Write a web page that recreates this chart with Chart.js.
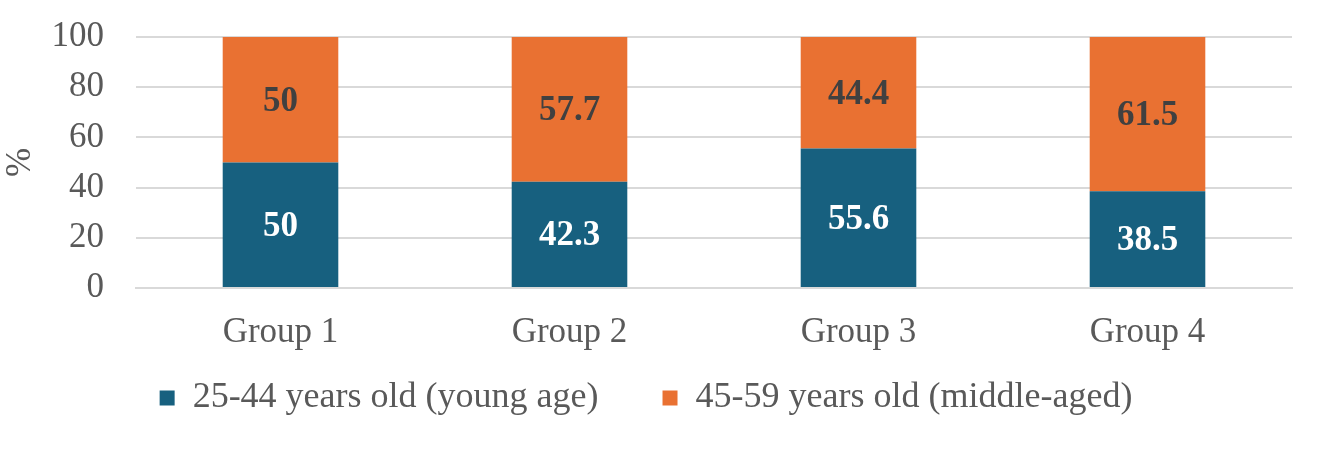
<!DOCTYPE html>
<html><head><meta charset="utf-8">
<script src="https://cdn.jsdelivr.net/npm/chart.js@4/dist/chart.umd.min.js"></script>
<style>html,body{margin:0;padding:0;background:#fff;}#wrap{width:1327px;height:452px;}</style>
</head><body><div id="wrap"><canvas id="c"></canvas></div>
<script>
const categories = ["Group 1", "Group 2", "Group 3", "Group 4"];
const youngLabel = "25-44 years old (young age)";
const middleLabel = "45-59 years old (middle-aged)";
const youngValues = [50, 42.3, 55.6, 38.5];
const middleValues = [50, 57.7, 44.4, 61.5];
const yTicks = [0, 20, 40, 60, 80, 100];

const FONT = "'Liberation Serif', 'Times New Roman', serif";
const labelColors = ["#ffffff", "#404040"];

const valueLabels = {
  id: 'valueLabels',
  afterDatasetsDraw(chart) {
    const ctx = chart.ctx;
    ctx.save();
    ctx.font = "bold 35px " + FONT;
    ctx.textAlign = 'center';
    ctx.textBaseline = 'middle';
    chart.data.datasets.forEach((ds, di) => {
      const meta = chart.getDatasetMeta(di);
      ctx.fillStyle = labelColors[di];
      meta.data.forEach((bar, i) => {
        const p = bar.getProps(['x', 'y', 'base'], true);
        ctx.fillText(String(ds.data[i]), p.x, (p.y + p.base) / 2 + 2);
      });
    });
    ctx.restore();
  }
};

const legendShift = {
  id: 'legendShift',
  afterLayout(chart) {
    const lg = chart.legend;
    if (lg) { lg.top -= 62; lg.bottom -= 62; }
  }
};

new Chart(document.getElementById('c'), {
  type: 'bar',
  data: {
    labels: categories,
    datasets: [
      { label: youngLabel, data: youngValues, backgroundColor: '#17607F', borderWidth: 0 },
      { label: middleLabel, data: middleValues, backgroundColor: '#E97132', borderWidth: 0 }
    ]
  },
  options: {
    responsive: true,
    maintainAspectRatio: false,
    animation: false,
    layout: { padding: { left: 0, right: 35, top: 0, bottom: -36 } },
    datasets: { bar: { barPercentage: 1, categoryPercentage: 0.4 } },
    plugins: {
      legend: {
        position: 'bottom',
        labels: {
          font: { family: FONT, size: 36 },
          color: '#595959',
          boxWidth: 15, boxHeight: 15,
          padding: 64
        }
      },
      tooltip: { enabled: false }
    },
    scales: {
      x: {
        stacked: true,
        grid: { display: false, drawTicks: false },
        border: { display: true, color: '#D9D9D9', width: 2 },
        ticks: { font: { family: FONT, size: 35 }, color: '#595959', padding: 24 }
      },
      y: {
        stacked: true,
        min: 0, max: 100,
        afterBuildTicks(axis) { axis.ticks = yTicks.map(v => ({ value: v })); },
        afterFit(axis) { axis.width = 136; },
        grid: { color: '#D9D9D9', lineWidth: 2, drawTicks: true, tickLength: 16, tickColor: 'rgba(0,0,0,0)' },
        border: { display: false },
        ticks: { font: { family: FONT, size: 35 }, color: '#595959', padding: 16 },
        title: { display: true, text: '%', font: { family: FONT, size: 35 }, color: '#595959', padding: 0 }
      }
    }
  },
  plugins: [valueLabels, legendShift]
});
</script></body></html>
